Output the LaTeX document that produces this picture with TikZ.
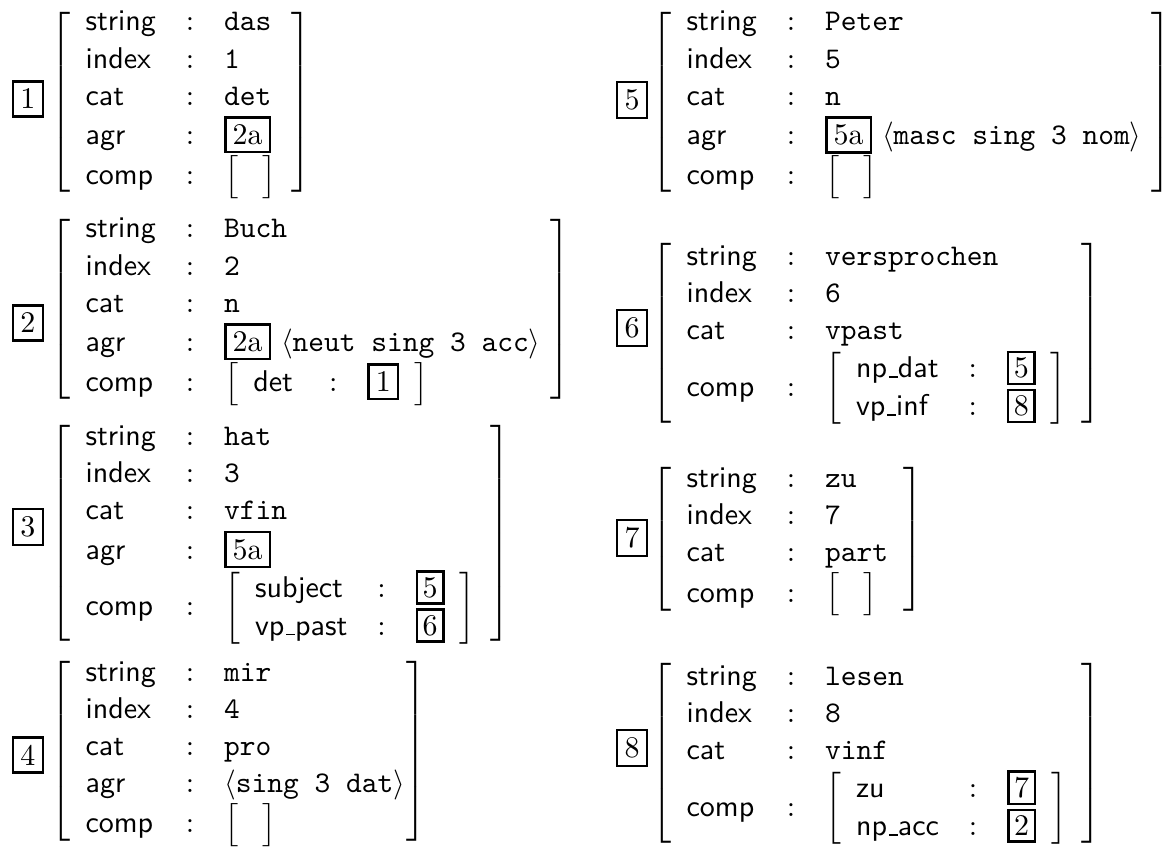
\documentclass[tikz,border=0pt]{standalone}
\setlength{\fboxsep}{2pt}
\setlength{\fboxrule}{0.8pt}
\setlength{\delimitershortfall}{8pt}
\renewcommand{\arraystretch}{1.03}
\newcommand{\avm}[1]{$\left[\begin{array}{lll}#1\end{array}\right]$}
\newcommand{\avmSub}[1]{\left[\begin{array}{lll}#1\end{array}\right]}
\newcommand{\avmRow}[2]{\textsf{#1} & : & #2}
\newcommand{\avmUs}{\kern.06em\vbox{\hrule width.3em}}
\newcommand{\avmRef}[1]{{\setlength{\fboxsep}{1.5pt}\fbox{#1}}}
% brackets a little over one row high
\newcommand{\avmBrL}{\scalebox{1}[0.8]{$\Big[$}}
\newcommand{\avmBrR}{\scalebox{1}[0.8]{$\Big]$}}
\newcommand{\avmEmpty}{\vcenter{\hbox{\avmBrL\hspace{8pt}\avmBrR}}}
\newcommand{\avmOne}[1]{\vcenter{\hbox{\avmBrL$\begin{array}{lll}#1\end{array}$\avmBrR}}}
\tikzset{
  avmTag/.style={draw, line width=0.8pt, inner sep=2.5pt, font=\rmfamily},
  avmBody/.style={inner sep=0pt, anchor=west}
}

\begin{document}
\begin{tikzpicture}[x=0.3333pt,y=-0.3333pt]
  \useasboundingbox (0,0) rectangle (1168,847);

  % left column
  \node[avmTag] (tag1) at (28,99) {1};
  \node[avmBody] (avm1) at (50,102) {\avm{
    \avmRow{string}{\texttt{das}}\\
    \avmRow{index}{\texttt{1}}\\
    \avmRow{cat}{\texttt{det}}\\
    \avmRow{agr}{\fbox{2a}}\\
    \avmRow{comp}{\avmEmpty}}};

  \node[avmTag] (tag2) at (28,323) {2};
  \node[avmBody] (avm2) at (50,309) {\avm{
    \avmRow{string}{\texttt{Buch}}\\
    \avmRow{index}{\texttt{2}}\\
    \avmRow{cat}{\texttt{n}}\\
    \avmRow{agr}{\fbox{2a}\ \langle\texttt{neut sing 3 acc}\rangle\!}\\
    \avmRow{comp}{\avmOne{\avmRow{det\hspace{2pt}}{\fbox{1}}}}}};

  \node[avmTag] (tag3) at (28,527) {3};
  \node[avmBody] (avm3) at (50,533) {\avm{
    \avmRow{string}{\texttt{hat}}\\
    \avmRow{index}{\texttt{3}}\\
    \avmRow{cat}{\texttt{vfin}}\\
    \avmRow{agr}{\fbox{5a}}\\
    \avmRow{comp}{\avmSub{
      \avmRow{subject}{\avmRef{5}}\\
      \avmRow{vp\avmUs past}{\avmRef{6}}}}}};

  \node[avmTag] (tag4) at (28,755) {4};
  \node[avmBody] (avm4) at (50,751) {\avm{
    \avmRow{string}{\texttt{mir}}\\
    \avmRow{index}{\texttt{4}}\\
    \avmRow{cat}{\texttt{pro}}\\
    \avmRow{agr}{\langle\texttt{sing 3 dat}\rangle\hspace{-4.5pt}}\\
    \avmRow{comp}{\avmEmpty}}};

  % right column
  \node[avmTag] (tag5) at (632,100) {5};
  \node[avmBody] (avm5) at (651,102) {\avm{
    \avmRow{string}{\texttt{Peter}}\\
    \avmRow{index}{\texttt{5}}\\
    \avmRow{cat}{\texttt{n}}\\
    \avmRow{agr}{\fbox{5a}\ \langle\texttt{masc sing 3 nom}\rangle\!}\\
    \avmRow{comp}{\avmEmpty}}};

  \node[avmTag] (tag6) at (632,328) {6};
  \node[avmBody] (avm6) at (651,333) {\avm{
    \avmRow{string}{\texttt{versprochen}}\\
    \avmRow{index}{\texttt{6}}\\
    \avmRow{cat}{\texttt{vpast}}\\
    \avmRow{comp}{\avmSub{
      \avmRow{np\avmUs dat}{\avmRef{5}}\\
      \avmRow{vp\avmUs inf}{\avmRef{8}}}}}};

  \node[avmTag] (tag7) at (632,538) {7};
  \node[avmBody] (avm7) at (651,539) {\avm{
    \avmRow{string}{\texttt{zu}}\\
    \avmRow{index}{\texttt{7}}\\
    \avmRow{cat}{\texttt{part}}\\
    \avmRow{comp}{\avmEmpty}}};

  \node[avmTag] (tag8) at (632,748) {8};
  \node[avmBody] (avm8) at (651,753) {\avm{
    \avmRow{string}{\texttt{lesen}}\\
    \avmRow{index}{\texttt{8}}\\
    \avmRow{cat}{\texttt{vinf}}\\
    \avmRow{comp}{\avmSub{
      \avmRow{zu}{\avmRef{7}}\\
      \avmRow{np\avmUs acc}{\avmRef{2}}}}}};
\end{tikzpicture}
\end{document}
